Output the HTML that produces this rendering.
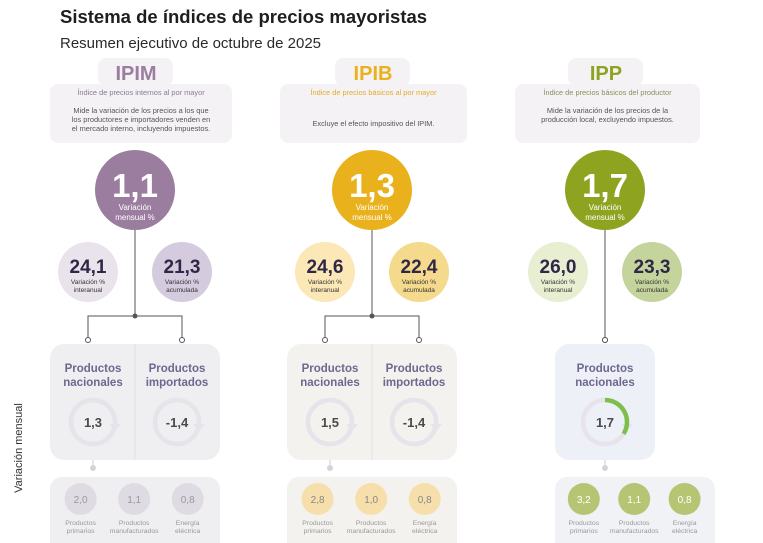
<!DOCTYPE html>
<html><head><meta charset="utf-8">
<style>
html,body{margin:0;padding:0;background:#fff;}
svg{display:block;font-family:"Liberation Sans",Arial,sans-serif;}
</style></head>
<body>
<svg id="chart" width="763" height="543" viewBox="0 0 763 543" xmlns="http://www.w3.org/2000/svg">
<text x="60" y="23" font-size="18.5" font-weight="bold" fill="#1e1e1e">Sistema de índices de precios mayoristas</text>
<text x="60" y="48" font-size="15" fill="#2a2a2a">Resumen ejecutivo de octubre de 2025</text>
<text transform="translate(22,448) rotate(-90)" text-anchor="middle" font-size="11" fill="#333">Variación mensual</text>
<g id="cols"></g>
</svg>
<script>
const indices = ["IPIM","IPIB","IPP"];
const fullNames = ["Índice de precios internos al por mayor","Índice de precios básicos al por mayor","Índice de precios básicos del productor"];
const monthly = [1.1, 1.3, 1.7];
const yoy = [24.1, 24.6, 26.0];
const ytd = [21.3, 22.4, 23.3];
const nacionales = [1.3, 1.5, 1.7];
const importados = [-1.4, -1.4, null];
const primarios = [2.0, 2.8, 3.2];
const manufacturados = [1.1, 1.0, 1.1];
const energia = [0.8, 0.8, 0.8];

const descs = [["Mide la variación de los precios a los que","los productores e importadores venden en","el mercado interno, incluyendo impuestos."],["Excluye el efecto impositivo del IPIM."],["Mide la variación de los precios de la","producción local, excluyendo impuestos."]];
const cxs=[135,372,605], infoX=[50,280,515], infoW=[182,187,185];
const colors=["#9b7d9f","#e9b11b","#8ea320"], labelCol=["#8a7a96","#e0ac2a","#8a8f5a"];
const smallL=["#e9e3ec","#fbe8b6","#e8eed2"], smallR=["#d5cbdf","#f5d98c","#c5d49c"];
const boxFill=["#efeef1","#f4f2ee","#eef0f8"], subFill=["#dedbe3","#f6dfaa","#b6c574"], subText=["#999","#888","#fff"];
const fmt=v=>v.toFixed(1).replace('.',',');
const NS="http://www.w3.org/2000/svg";
const root=document.getElementById('cols');
function el(tag,attrs,parent,text){const e=document.createElementNS(NS,tag);for(const k in attrs)e.setAttribute(k,attrs[k]);if(text!==undefined)e.textContent=text;(parent||root).appendChild(e);return e;}
function ring(g,x,y,v,col){
  const r=22;
  el('circle',{cx:x,cy:y,r:r,fill:'none',stroke:'#e6e3ea','stroke-width':4.5},g);
  el('path',{d:`M${x+r-6},${y+2} L${x+r+6},${y+2} L${x+r},${y+9} Z`,fill:'#e6e3ea'},g);
  if(col){const a=Math.min(Math.abs(v)/5,1)*Math.PI*2;const sx=x,sy=y-r;const ex=x+r*Math.sin(a),ey=y-r*Math.cos(a);
    el('path',{d:`M${sx},${sy} A${r},${r} 0 ${a>Math.PI?1:0} 1 ${ex},${ey}`,fill:'none',stroke:col,'stroke-width':4.5},g);}
  el('text',{x:x,y:y+5,'text-anchor':'middle','font-size':13,'font-weight':'bold',fill:'#4a4a4a'},g,fmt(v));
}
indices.forEach((name,i)=>{
  const cx=cxs[i];
  const g=el('g',{});
  
  
  el('rect',{x:cx-37,y:58,width:75,height:28,rx:8,fill:'#f4f2f5'},g);
  const tl=el('text',{x:cx+1,y:80,'text-anchor':'middle','font-size':20,'font-weight':'bold',fill:colors[i]},g,name);
  
  
  el('rect',{x:infoX[i],y:84,width:infoW[i],height:59,rx:8,fill:'#f4f2f5'},g);
  const icx=infoX[i]+infoW[i]/2;
  el('text',{x:icx,y:95,'text-anchor':'middle','font-size':7.4,fill:labelCol[i]},g,fullNames[i]);
  descs[i].forEach((l,j)=>el('text',{x:icx,y:(descs[i].length==1?126:113)+j*9,'text-anchor':'middle','font-size':7.4,fill:'#555'},g,l));
  const hasImp=importados[i]!==null;
  const lx=hasImp?cx-47:cx, rx=hasImp?cx+47:cx;
  el('line',{x1:cx,y1:228,x2:cx,y2:316,stroke:'#555','stroke-width':1},g);
  if(hasImp){el('path',{d:`M${lx},338 V316 H${rx} V338`,fill:'none',stroke:'#555'},g);el('circle',{cx:cx,cy:316,r:2.5,fill:'#555'},g);}
  else el('line',{x1:cx,y1:316,x2:cx,y2:338,stroke:'#555'},g);
  [lx,rx].forEach(x=>el('circle',{cx:x,cy:340,r:2.5,fill:'#fff',stroke:'#555'},g));
  const bc=el('circle',{cx:cx,cy:190,r:40,fill:colors[i]},g);
  
  
  el('text',{x:cx,y:197,'text-anchor':'middle','font-size':33,'font-weight':'bold',fill:'#fff'},g,fmt(monthly[i]));
  el('text',{x:cx,y:210,'text-anchor':'middle','font-size':8,fill:'#fff'},g,'Variación');
  el('text',{x:cx,y:220,'text-anchor':'middle','font-size':8,fill:'#fff'},g,'mensual %');
  [[cx-47,yoy[i],smallL[i],'interanual'],[cx+47,ytd[i],smallR[i],'acumulada']].forEach(s=>{
    const c=el('circle',{cx:s[0],cy:272,r:30,fill:s[2]},g);
    
    
    el('text',{x:s[0],y:273,'text-anchor':'middle','font-size':19,'font-weight':'bold',fill:'#2f2746'},g,fmt(s[1]));
    el('text',{x:s[0],y:284,'text-anchor':'middle','font-size':6.5,fill:'#333'},g,'Variación %');
    el('text',{x:s[0],y:292,'text-anchor':'middle','font-size':6.5,fill:'#333'},g,s[3]);
  });
  const pw=hasImp?170:100;
  el('rect',{x:cx-pw/2,y:344,width:pw,height:116,rx:14,fill:boxFill[i]},g);
  if(hasImp) el('line',{x1:cx,y1:344,x2:cx,y2:460,stroke:'#e2e0e5'},g);
  const prods=hasImp?[[cx-42,'nacionales',nacionales[i]],[cx+42,'importados',importados[i]]]:[[cx,'nacionales',nacionales[i]]];
  prods.forEach(p=>{
    el('text',{x:p[0],y:372,'text-anchor':'middle','font-size':11.5,'font-weight':'bold',fill:'#6e6790'},g,'Productos');
    el('text',{x:p[0],y:386,'text-anchor':'middle','font-size':11.5,'font-weight':'bold',fill:'#6e6790'},g,p[1]);
    ring(g,p[0],422,p[2],i==2?'#7cbf4a':null);
  });
  const dx=hasImp?cx-42:cx;
  el('line',{x1:dx,y1:460,x2:dx,y2:468,stroke:'#ccc'},g);
  el('circle',{cx:dx,cy:468,r:3,fill:'#d5d3d8'},g);
  const sw=i==2?160:170, sx=i==2?555:cx-85;
  el('rect',{x:sx,y:477,width:sw,height:80,rx:12,fill:i==2?'#f1f2f6':boxFill[i]},g);
  const subs=[[primarios[i],'Productos','primarios'],[manufacturados[i],'Productos','manufacturados'],[energia[i],'Energía','eléctrica']];
  subs.forEach((s,j)=>{
    const x=sx+sw*(0.18+j*0.315);
    const c=el('circle',{cx:x,cy:499,r:16,fill:subFill[i]},g);
    
    
    el('text',{x:x,y:503,'text-anchor':'middle','font-size':10,fill:subText[i]},g,fmt(s[0]));
    el('text',{x:x,y:525,'text-anchor':'middle','font-size':6.8,fill:'#999'},g,s[1]);
    el('text',{x:x,y:533,'text-anchor':'middle','font-size':6.8,fill:'#999'},g,s[2]);
  });
});
</script>
</body></html>
